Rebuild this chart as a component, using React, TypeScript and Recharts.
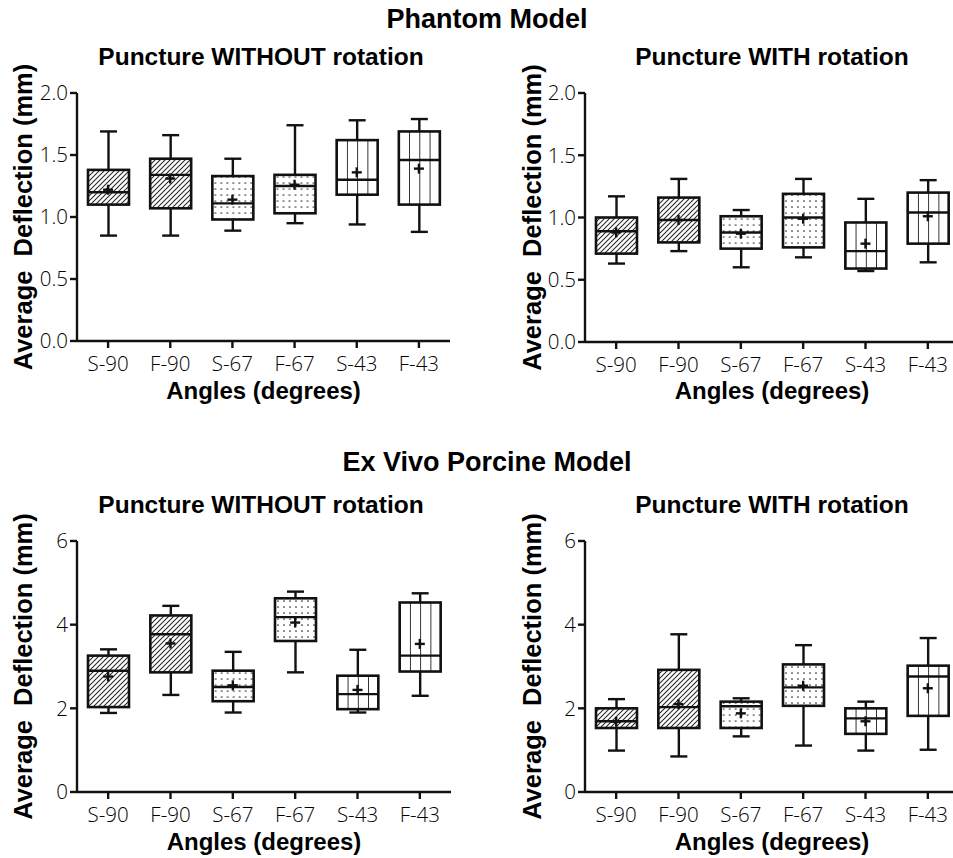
import React from "react";
import { Bar, ComposedChart, Label, Scatter, XAxis, YAxis } from "recharts";

// 각도 조건 6개. 같은 각도 쌍은 같은 채움 패턴(빗금/점/세로줄)을 쓴다
const CATEGORIES = ["S-90", "F-90", "S-67", "F-67", "S-43", "F-43"];
const FILLS = ["hatch", "hatch", "dots", "dots", "vlines", "vlines"];

// Phantom, 회전 없음
const phantomNoRotMin = [0.85, 0.85, 0.89, 0.95, 0.94, 0.88];
const phantomNoRotQ1 = [1.1, 1.07, 0.98, 1.03, 1.18, 1.1];
const phantomNoRotMedian = [1.2, 1.34, 1.11, 1.25, 1.3, 1.46];
const phantomNoRotQ3 = [1.38, 1.47, 1.33, 1.34, 1.62, 1.69];
const phantomNoRotMax = [1.69, 1.66, 1.47, 1.74, 1.78, 1.79];
const phantomNoRotMean = [1.22, 1.31, 1.14, 1.26, 1.36, 1.39];

// Phantom, 회전 있음
const phantomRotMin = [0.63, 0.73, 0.6, 0.68, 0.57, 0.64];
const phantomRotQ1 = [0.71, 0.8, 0.75, 0.76, 0.59, 0.79];
const phantomRotMedian = [0.89, 0.98, 0.88, 1.0, 0.73, 1.04];
const phantomRotQ3 = [1.0, 1.16, 1.01, 1.19, 0.96, 1.2];
const phantomRotMax = [1.17, 1.31, 1.06, 1.31, 1.15, 1.3];
const phantomRotMean = [0.88, 0.98, 0.87, 0.99, 0.79, 1.01];

// Ex vivo porcine, 회전 없음
const porcineNoRotMin = [1.89, 2.32, 1.9, 2.86, 1.9, 2.3];
const porcineNoRotQ1 = [2.03, 2.86, 2.17, 3.61, 1.98, 2.88];
const porcineNoRotMedian = [2.9, 3.77, 2.51, 4.18, 2.34, 3.26];
const porcineNoRotQ3 = [3.26, 4.22, 2.9, 4.63, 2.78, 4.53];
const porcineNoRotMax = [3.41, 4.45, 3.35, 4.79, 3.4, 4.75];
const porcineNoRotMean = [2.76, 3.55, 2.55, 4.05, 2.44, 3.54];

// Ex vivo porcine, 회전 있음
const porcineRotMin = [0.99, 0.85, 1.33, 1.11, 0.99, 1.01];
const porcineRotQ1 = [1.53, 1.53, 1.53, 2.06, 1.39, 1.82];
const porcineRotMedian = [1.69, 2.03, 2.05, 2.5, 1.76, 2.76];
const porcineRotQ3 = [2.0, 2.92, 2.16, 3.05, 2.0, 3.02];
const porcineRotMax = [2.22, 3.77, 2.24, 3.51, 2.16, 3.68];
const porcineRotMean = [1.68, 2.1, 1.88, 2.54, 1.69, 2.48];

const PHANTOM_TICKS = [0, 0.5, 1, 1.5, 2];
const PORCINE_TICKS = [0, 2, 4, 6];

const INK = "#111";
const PATTERN_INK = "#2a2a2a";
const BOLD_FONT = '"Liberation Sans", Arial, sans-serif';
const TICK_FONT = '"Open Sans", "Liberation Sans", sans-serif';
const Y_AXIS_W = 77;
const X_AXIS_H = 40;

type Row = {
  name: string;
  fill: string;
  min: number;
  q1: number;
  median: number;
  q3: number;
  max: number;
  mean: number;
};

function buildRows(
  min: number[],
  q1: number[],
  median: number[],
  q3: number[],
  max: number[],
  mean: number[],
): Row[] {
  return CATEGORIES.map((name, i) => ({
    name,
    fill: FILLS[i],
    min: min[i],
    q1: q1[i],
    median: median[i],
    q3: q3[i],
    max: max[i],
    mean: mean[i],
  }));
}

function renderPattern(kind: string, id: string, boxX: number, boxW: number) {
  if (kind === "hatch") {
    return (
      <pattern id={id} patternUnits="userSpaceOnUse" width={5} height={5}>
        <rect width={5} height={5} fill="#fff" />
        <path
          d="M-1,1 L1,-1 M0,5 L5,0 M4,6 L6,4"
          stroke={PATTERN_INK}
          strokeWidth={1.1}
        />
      </pattern>
    );
  }
  if (kind === "dots") {
    return (
      <pattern id={id} patternUnits="userSpaceOnUse" x={boxX} y={0} width={6} height={6}>
        <rect width={6} height={6} fill="#fff" />
        <circle cx={3} cy={3} r={0.85} fill={PATTERN_INK} />
      </pattern>
    );
  }
  // 세로줄은 상자 폭을 4등분
  const w = boxW / 4;
  return (
    <pattern id={id} patternUnits="userSpaceOnUse" x={boxX} y={0} width={w} height={10}>
      <rect width={w} height={10} fill="#fff" />
      <line x1={0} x2={0} y1={0} y2={10} stroke={INK} strokeWidth={1.7} />
    </pattern>
  );
}

// 막대는 [min, max] 범위 막대. 상자/수염/중앙값은 그 막대의 픽셀 범위로 선형 매핑
function makeBoxShape(panelId: string) {
  return (props: any) => {
    const { x, y, width, height, payload, index } = props;
    if (x == null || y == null || !payload) return <g />;
    const top = Math.min(y, y + height);
    const bottom = Math.max(y, y + height);
    const span = payload.max - payload.min;
    const toPx = (v: number) => bottom - ((v - payload.min) / span) * (bottom - top);
    const cx = x + width / 2;
    const yQ1 = toPx(payload.q1);
    const yQ3 = toPx(payload.q3);
    const yMed = toPx(payload.median);
    const pid = `${panelId}-fill-${index}`;
    const cap = 8.5;
    return (
      <g>
        <defs>{renderPattern(payload.fill, pid, x, width)}</defs>
        <g stroke={INK} strokeWidth={2.4}>
          <line x1={cx} x2={cx} y1={top} y2={yQ3} />
          <line x1={cx} x2={cx} y1={yQ1} y2={bottom} />
          <line x1={cx - cap} x2={cx + cap} y1={top} y2={top} />
          <line x1={cx - cap} x2={cx + cap} y1={bottom} y2={bottom} />
        </g>
        <rect
          x={x}
          y={yQ3}
          width={width}
          height={yQ1 - yQ3}
          fill={`url(#${pid})`}
          stroke={INK}
          strokeWidth={2.6}
        />
        <line x1={x} x2={x + width} y1={yMed} y2={yMed} stroke={INK} strokeWidth={2.4} />
      </g>
    );
  };
}

function PlusMark(props: any) {
  const { cx, cy } = props;
  if (cx == null || cy == null) return <g />;
  return (
    <g stroke={INK} strokeWidth={2.4}>
      <line x1={cx - 5} x2={cx + 5} y1={cy} y2={cy} />
      <line x1={cx} x2={cx} y1={cy - 5} y2={cy + 5} />
    </g>
  );
}

type PanelProps = {
  id: string;
  left: number;
  top: number;
  plotTop: number;
  plotW: number;
  plotH: number;
  rows: Row[];
  domain: [number, number];
  ticks: number[];
  decimals: number;
  yTitleX: number;
  xTitleY: number;
};

function Panel(p: PanelProps) {
  const width = Y_AXIS_W + p.plotW + 20;
  const height = p.plotTop + p.plotH + 72;
  const tickStyle = { fill: "#000", fontSize: 20.5, fontFamily: TICK_FONT, fontWeight: 300 };
  const titleStyle = { fontFamily: BOLD_FONT, fontWeight: 700, fontSize: 24, fill: "#000" };
  const yMid = p.plotTop + p.plotH / 2;

  return (
    <div style={{ position: "absolute", left: p.left, top: p.top }}>
      <ComposedChart
        width={width}
        height={height}
        data={p.rows}
        margin={{ top: p.plotTop, right: 20, bottom: height - p.plotTop - p.plotH - X_AXIS_H, left: 0 }}
      >
        <XAxis
          dataKey="name"
          height={X_AXIS_H}
          interval={0}
          stroke={INK}
          strokeWidth={2.4}
          tickSize={7}
          tickMargin={8}
          tick={tickStyle}
          axisLine={{ stroke: INK, strokeWidth: 2.4 }}
          tickLine={{ stroke: INK, strokeWidth: 2.4 }}
        >
          <Label
            content={() => (
              <text x={Y_AXIS_W + p.plotW / 2} y={p.xTitleY} textAnchor="middle" style={titleStyle}>
                Angles (degrees)
              </text>
            )}
          />
        </XAxis>
        <YAxis
          width={Y_AXIS_W}
          domain={p.domain}
          ticks={p.ticks}
          interval={0}
          stroke={INK}
          strokeWidth={2.4}
          tickSize={7}
          tickMargin={2}
          tick={tickStyle}
          tickFormatter={(v: number) => v.toFixed(p.decimals)}
          axisLine={{ stroke: INK, strokeWidth: 2.4 }}
          tickLine={{ stroke: INK, strokeWidth: 2.4 }}
        >
          <Label
            content={() => (
              <text
                transform={`translate(${p.yTitleX},${yMid}) rotate(-90)`}
                textAnchor="middle"
                dominantBaseline="central"
                style={{ ...titleStyle, fontSize: 25.5, whiteSpace: "pre" }}
              >
                {"Average  Deflection (mm)"}
              </text>
            )}
          />
        </YAxis>
        <Bar
          dataKey={(r: Row) => [r.min, r.max]}
          barSize={41}
          shape={makeBoxShape(p.id)}
          isAnimationActive={false}
        />
        <Scatter dataKey="mean" shape={PlusMark} isAnimationActive={false} />
      </ComposedChart>
    </div>
  );
}

export default function App() {
  const mainTitle = { fontFamily: BOLD_FONT, fontWeight: 700, fontSize: 27, fill: "#000" };
  const subTitle = { fontFamily: BOLD_FONT, fontWeight: 700, fontSize: 24.5, fill: "#000" };

  return (
    <div
      style={{
        position: "absolute",
        left: 0,
        top: 0,
        width: 953,
        height: 858,
        overflow: "hidden",
        background: "#fff",
      }}
    >
      <svg width={953} height={858} style={{ position: "absolute", left: 0, top: 0 }}>
        <text x={487} y={28} textAnchor="middle" style={mainTitle}>
          Phantom Model
        </text>
        <text x={261} y={65} textAnchor="middle" style={subTitle}>
          Puncture WITHOUT rotation
        </text>
        <text x={772} y={65} textAnchor="middle" style={subTitle}>
          Puncture WITH rotation
        </text>
        <text x={487} y={471} textAnchor="middle" style={mainTitle}>
          Ex Vivo Porcine Model
        </text>
        <text x={261} y={513} textAnchor="middle" style={subTitle}>
          Puncture WITHOUT rotation
        </text>
        <text x={772} y={513} textAnchor="middle" style={subTitle}>
          Puncture WITH rotation
        </text>
      </svg>

      <Panel
        id="p1"
        left={0}
        top={0}
        plotTop={93}
        plotW={373}
        plotH={248}
        rows={buildRows(phantomNoRotMin, phantomNoRotQ1, phantomNoRotMedian, phantomNoRotQ3, phantomNoRotMax, phantomNoRotMean)}
        domain={[0, 2]}
        ticks={PHANTOM_TICKS}
        decimals={1}
        yTitleX={23}
        xTitleY={399}
      />
      <Panel
        id="p2"
        left={508}
        top={0}
        plotTop={93}
        plotW={374}
        plotH={249}
        rows={buildRows(phantomRotMin, phantomRotQ1, phantomRotMedian, phantomRotQ3, phantomRotMax, phantomRotMean)}
        domain={[0, 2]}
        ticks={PHANTOM_TICKS}
        decimals={1}
        yTitleX={24}
        xTitleY={399}
      />
      <Panel
        id="p3"
        left={0}
        top={460}
        plotTop={81}
        plotW={374}
        plotH={251}
        rows={buildRows(porcineNoRotMin, porcineNoRotQ1, porcineNoRotMedian, porcineNoRotQ3, porcineNoRotMax, porcineNoRotMean)}
        domain={[0, 6]}
        ticks={PORCINE_TICKS}
        decimals={0}
        yTitleX={23}
        xTitleY={390}
      />
      <Panel
        id="p4"
        left={508}
        top={460}
        plotTop={81}
        plotW={374}
        plotH={251}
        rows={buildRows(porcineRotMin, porcineRotQ1, porcineRotMedian, porcineRotQ3, porcineRotMax, porcineRotMean)}
        domain={[0, 6]}
        ticks={PORCINE_TICKS}
        decimals={0}
        yTitleX={24}
        xTitleY={390}
      />
    </div>
  );
}
